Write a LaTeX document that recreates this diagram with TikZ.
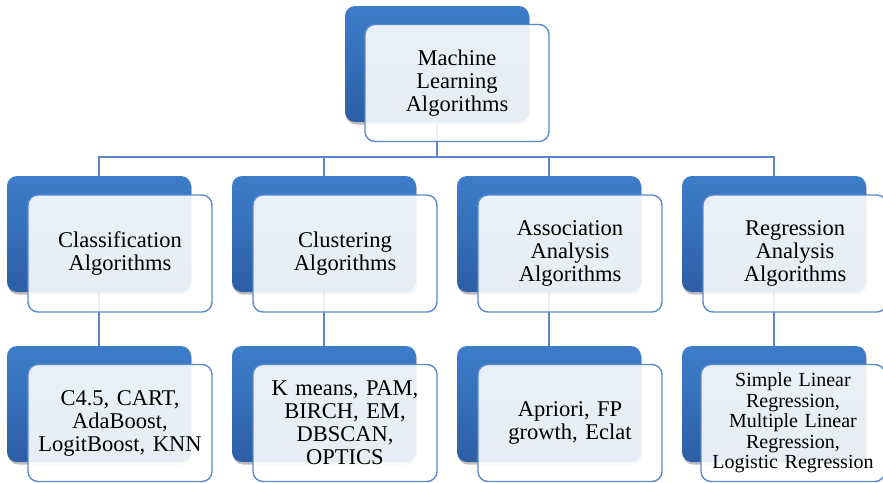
\documentclass[tikz,border=0pt]{standalone}
\usepackage{fontspec}
\setmainfont{Liberation Serif}
\usetikzlibrary{shadows,backgrounds}
\definecolor{blueT}{HTML}{3D7DCA}
\definecolor{blueB}{HTML}{2D5EA6}
\definecolor{frontBorder}{HTML}{5A8AD0}
\definecolor{connColor}{HTML}{5B87C4}
\tikzset{
  backbox/.style={rectangle, rounded corners=10pt, minimum width=184pt, minimum height=116pt,
    inner sep=0pt, top color=blueT, bottom color=blueB,
    general shadow={fill=black, opacity=0.25, shadow xshift=1pt, shadow yshift=-2.5pt}},
  frontbox/.style={rectangle, rounded corners=10pt, minimum width=184pt, minimum height=117pt,
    inner sep=0pt, draw=frontBorder, line width=1.4pt, fill=white, fill opacity=0.89,
    text opacity=1, align=center, text width=178pt,
    font=\fontsize{22.5}{23}\selectfont},
  smallfront/.style={frontbox, font=\fontsize{20}{20.5}\selectfont},
  conn/.style={draw=connColor, line width=1.4pt}
}
\begin{document}
\begin{tikzpicture}[x=1pt,y=-1pt]
\useasboundingbox (0,0) rectangle (883,482);
% top
\node[backbox] (topB) at (437,64) {};
\node[frontbox] (topF) at (457,83) {Machine\\Learning\\Algorithms};
% row 2
\node[backbox] (c1B) at (99,234) {};
\node[frontbox] (c1F) at (120,253.5) {Classification\\Algorithms};
\node[backbox] (c2B) at (324,234) {};
\node[frontbox] (c2F) at (345,253.5) {Clustering\\Algorithms};
\node[backbox] (c3B) at (549,234) {};
\node[frontbox] (c3F) at (570,253.5) {Association\\Analysis\\Algorithms};
\node[backbox] (c4B) at (774,234) {};
\node[frontbox] (c4F) at (795,253.5) {Regression\\Analysis\\Algorithms};
% row 3
\node[backbox] (d1B) at (99,404) {};
\node[frontbox] (d1F) at (120,423) {C4.5, CART,\\AdaBoost,\\LogitBoost, KNN};
\node[backbox] (d2B) at (324,404) {};
\node[frontbox] (d2F) at (345,423) {K means, PAM,\\BIRCH, EM,\\DBSCAN,\\OPTICS};
\node[backbox] (d3B) at (549,404) {};
\node[frontbox] (d3F) at (570,423) {Apriori, FP\\growth, Eclat};
\node[backbox] (d4B) at (774,404) {};
\node[smallfront] (d4F) at (793,423) {Simple Linear\\Regression,\\Multiple Linear\\Regression,\\Logistic Regression};
\coordinate (bus) at (437,157);
\begin{scope}[on background layer]
  \draw[conn] (topB.center) -- (topB.center |- bus) -| (c1B.center);
  \draw[conn] (topB.center) -- (topB.center |- bus) -| (c2B.center);
  \draw[conn] (topB.center) -- (topB.center |- bus) -| (c3B.center);
  \draw[conn] (topB.center) -- (topB.center |- bus) -| (c4B.center);
  \draw[conn] (c1B.center) -- (d1B.center);
  \draw[conn] (c2B.center) -- (d2B.center);
  \draw[conn] (c3B.center) -- (d3B.center);
  \draw[conn] (c4B.center) -- (d4B.center);
\end{scope}
\end{tikzpicture}
\end{document}
